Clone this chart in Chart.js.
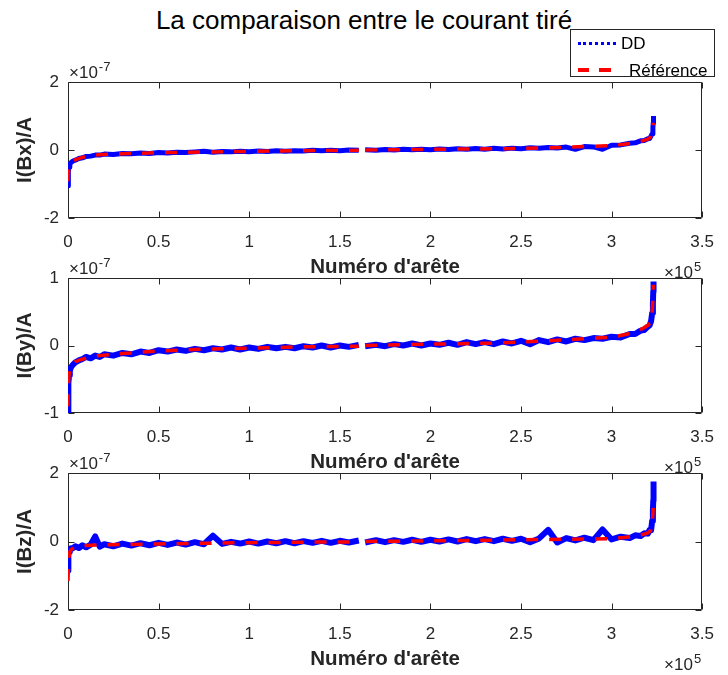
<!DOCTYPE html>
<html>
<head>
<meta charset="utf-8">
<script src="https://cdn.jsdelivr.net/npm/chart.js@4.4.1/dist/chart.umd.min.js"></script>
<style>
  html, body { margin: 0; padding: 0; background: #fff; }
  body { width: 728px; height: 675px; position: relative; overflow: hidden; font-family: 'Liberation Sans', Arial, Helvetica, sans-serif; }
  canvas.panel { position: absolute; left: 0; }
  #title { position: absolute; left: 0; top: 7px; width: 728px; text-align: center; font-size: 26px; line-height: 26px; color: #000; white-space: nowrap; }
  #legend { position: absolute; left: 570px; top: 29px; width: 143px; height: 46px; border: 1px solid #262626; background: #fff; z-index: 5; }
  .lg-text { position: absolute; font-size: 17px; line-height: 17px; color: #000; white-space: nowrap; }
  .dot { position: absolute; left: 7px; top: 12px; width: 38px; border-top: 3px dotted #0000ff; }
  .dash { position: absolute; height: 4px; background: #ff0000; top: 38px; }
</style>
</head>
<body>
<div id="title">La comparaison entre le courant tiré</div>
<div id="legend">
  <div class="dot"></div>
  <div class="lg-text" style="left:50px; top:5px;">DD</div>
  <div class="dash" style="left:7px; width:11px;"></div>
  <div class="dash" style="left:28px; width:12px;"></div>
  <div class="lg-text" style="left:58px; top:32px;">Référence</div>
</div>
<canvas class="panel" id="c1" width="728" height="235" style="top:50px"></canvas>
<canvas class="panel" id="c2" width="728" height="235" style="top:245px"></canvas>
<canvas class="panel" id="c3" width="728" height="237" style="top:440px"></canvas>
<script>
// ---------- data (current in units of 1e-7 A, x = edge number) ----------
const edgeRef = [0, 200, 500, 1000, 2000, 4000, 7000, 10000, 17000, 30000, 50000, 75000, 100000, 130000, 160500, 162500, 164000, 200000, 235000, 250000, 275000, 290000, 300000, 307000, 312000, 317000, 320000, 321500, 322300, 322700, 323000];
const refBx = [-0.92, -0.7, -0.5, -0.4, -0.34, -0.29, -0.23, -0.19, -0.14, -0.11, -0.08, -0.06, -0.04, -0.02, -0.01, null, 0.0, 0.02, 0.035, 0.05, 0.08, 0.11, 0.13, 0.17, 0.2, 0.27, 0.32, 0.38, 0.5, 0.65, 0.8];
const refBy = [-0.9, -0.6, -0.45, -0.36, -0.29, -0.24, -0.21, -0.19, -0.15, -0.12, -0.08, -0.055, -0.04, -0.02, -0.01, null, 0.0, 0.02, 0.035, 0.05, 0.085, 0.11, 0.12, 0.16, 0.19, 0.25, 0.3, 0.34, 0.45, 0.65, 0.9];
const refBz = [-1.15, -0.8, -0.45, -0.3, -0.22, -0.17, -0.14, -0.12, -0.1, -0.09, -0.07, -0.05, -0.035, -0.02, -0.01, null, 0.0, 0.02, 0.04, 0.05, 0.065, 0.075, 0.08, 0.12, 0.15, 0.2, 0.25, 0.32, 0.5, 0.75, 0.98];

const edgeDD = [0, 100, 300, 600, 1000, 1500, 2500, 4000, 6000, 8000,
  10000, 12500, 15000, 17500, 20000, 25000, 30000, 35000, 40000, 45000,
  50000, 55000, 60000, 65000, 70000, 75000, 80000, 85000, 90000, 95000,
  100000, 105000, 110000, 115000, 120000, 125000, 130000, 135000, 140000, 145000,
  150000, 155000, 160500, 162500, 164000, 170000, 175000, 180000, 185000, 190000,
  195000, 200000, 205000, 210000, 215000, 220000, 225000, 230000, 235000, 240000,
  245000, 250000, 255000, 260000, 265000, 270000, 275000, 280000, 285000, 290000,
  295000, 300000, 305000, 310000, 313000, 316000, 318000, 320000, 321000, 321800,
  322400, 322800, 323000, 323100, 323200];
const ddBx = [-1.05, -0.82, -0.62, -0.5, -0.41, -0.38, -0.33, -0.3, -0.25, -0.23,
  -0.19, -0.18, -0.15, -0.15, -0.12, -0.13, -0.1, -0.11, -0.09, -0.1,
  -0.075, -0.085, -0.065, -0.075, -0.055, -0.04, -0.065, -0.045, -0.055, -0.035,
  -0.05, -0.03, -0.045, -0.025, -0.035, -0.02, -0.03, -0.01, -0.025, -0.005,
  -0.02, 0.0, -0.01, null, 0.005, -0.005, 0.015, 0.0, 0.02, 0.005,
  0.025, 0.01, 0.03, 0.015, 0.035, 0.02, 0.045, 0.025, 0.05, 0.03,
  0.055, 0.04, 0.065, 0.05, 0.075, 0.06, 0.085, 0.02, 0.1, 0.09,
  0.02, 0.14, 0.15, 0.2, 0.21, 0.27, 0.28, 0.33, 0.34, 0.41,
  0.48, 0.65, 0.8, 0.9, 1.0];
const ddBy = [-1.0, -0.72, -0.56, -0.44, -0.38, -0.33, -0.29, -0.25, -0.22, -0.2,
  -0.17, -0.19, -0.15, -0.17, -0.13, -0.15, -0.11, -0.13, -0.09, -0.11,
  -0.07, -0.09, -0.06, -0.08, -0.05, -0.07, -0.04, -0.06, -0.03, -0.06,
  -0.03, -0.05, -0.02, -0.04, -0.02, -0.04, -0.01, -0.03, 0.0, -0.03,
  0.0, -0.02, 0.01, null, -0.01, 0.01, -0.01, 0.02, 0.0, 0.03,
  0.0, 0.03, 0.01, 0.04, 0.01, 0.05, 0.02, 0.05, 0.02, 0.06,
  0.03, 0.07, 0.02, 0.08, 0.05, 0.09, 0.06, 0.1, 0.08, 0.11,
  0.1, 0.13, 0.12, 0.17, 0.17, 0.22, 0.23, 0.28, 0.3, 0.36,
  0.48, 0.62, 0.8, 0.88, 0.95];
const ddBz = [-0.85, -0.55, -0.4, -0.3, -0.25, -0.2, -0.2, -0.14, -0.19, -0.11,
  -0.17, -0.09, 0.15, -0.15, -0.08, -0.14, -0.06, -0.12, -0.05, -0.11,
  -0.04, -0.1, -0.03, -0.09, -0.02, -0.08, 0.17, -0.07, -0.01, -0.06,
  0.0, -0.06, 0.0, -0.05, 0.01, -0.05, 0.01, -0.04, 0.02, -0.04,
  0.02, -0.03, 0.03, null, -0.03, 0.04, -0.02, 0.04, -0.01, 0.05,
  -0.01, 0.05, 0.0, 0.06, 0.0, 0.07, 0.01, 0.07, 0.01, 0.08,
  0.02, 0.08, -0.02, 0.09, 0.34, -0.03, 0.1, 0.03, 0.11, 0.04,
  0.35, 0.06, 0.14, 0.1, 0.18, 0.16, 0.24, 0.23, 0.34, 0.33,
  0.6, 0.9, 1.2, 1.5, 1.75];

const xRange = [0, 350000];
const xStep = 50000;
const yLabels = ['I(Bx)/A', 'I(By)/A', 'I(Bz)/A'];
const yRanges = [[-2, 2, 2], [-1, 1, 1], [-2, 2, 2]];
const xTitle = "Numéro d'arête";
const seriesNames = ['DD', 'Référence'];

// ---------- drawing ----------
const AXIS = '#262626';
const FONT = "'Liberation Sans', Arial, Helvetica, sans-serif";

const matlabBox = {
  id: 'matlabBox',
  beforeDatasetsDraw(chart) {
    const {ctx, chartArea: a, scales: {x, y}} = chart;
    const L = Math.round(a.left) + 0.5, R = Math.round(a.right) - 0.5;
    const T = Math.round(a.top) + 0.5, B = Math.round(a.bottom) - 0.5;
    ctx.save();
    ctx.strokeStyle = AXIS;
    ctx.lineWidth = 1;
    ctx.beginPath();
    ctx.rect(L, T, R - L, B - T);
    x.ticks.forEach(t => {
      const p = Math.round(x.getPixelForValue(t.value)) + 0.5;
      ctx.moveTo(p, B); ctx.lineTo(p, B - 6);
      ctx.moveTo(p, T); ctx.lineTo(p, T + 6);
    });
    y.ticks.forEach(t => {
      const p = Math.round(y.getPixelForValue(t.value)) + 0.5;
      ctx.moveTo(L, p); ctx.lineTo(L + 6, p);
      ctx.moveTo(R, p); ctx.lineTo(R - 6, p);
    });
    ctx.stroke();
    ctx.restore();
  },
  afterDraw(chart) {
    const {ctx, chartArea: a} = chart;
    ctx.save();
    ctx.fillStyle = AXIS;
    ctx.textBaseline = 'alphabetic';
    ctx.textAlign = 'left';
    ctx.font = '17px ' + FONT;
    const base = '\u00d710';
    ctx.fillText(base, a.left + 1, a.top - 4);
    const w = ctx.measureText(base).width;
    ctx.font = '13px ' + FONT;
    ctx.fillText('-7', a.left + 1 + w + 1, a.top - 11);
    const we = ctx.measureText('5').width;
    ctx.fillText('5', a.right - we - 1, a.bottom + 53);
    ctx.font = '17px ' + FONT;
    ctx.textAlign = 'right';
    ctx.fillText(base, a.right - we - 2, a.bottom + 60);
    ctx.restore();
  }
};

function pts(xs, ys) { return xs.map((x, i) => ({x: x, y: ys[i]})); }

function makePanel(id, idx, ddVals, refVals, padTop, ddWidth) {
  const [yMin, yMax, yStep] = yRanges[idx];
  return new Chart(document.getElementById(id), {
    type: 'line',
    data: {
      datasets: [
        { label: seriesNames[1], data: pts(edgeRef, refVals), borderColor: '#ff0000', borderWidth: 3.5,
          borderDash: [12, 11], pointRadius: 0, fill: false, tension: 0, spanGaps: false, order: 0 },
        { label: seriesNames[0], data: pts(edgeDD, ddVals), borderColor: '#0000ff', borderWidth: ddWidth,
          borderJoinStyle: 'round', pointRadius: 0, fill: false, tension: 0, spanGaps: false, order: 1 }
      ]
    },
    options: {
      responsive: false,
      animation: false,
      devicePixelRatio: 1,
      layout: { padding: { top: padTop, right: 15, left: 0, bottom: 0 } },
      plugins: { legend: { display: false }, tooltip: { enabled: false }, title: { display: false } },
      scales: {
        x: {
          type: 'linear', min: xRange[0], max: xRange[1],
          grid: { display: false, drawTicks: false },
          border: { display: false },
          ticks: { stepSize: xStep, padding: 14, color: AXIS, maxRotation: 0,
                   font: { family: FONT, size: 17 }, callback: v => String(v / 1e5) },
          title: { display: true, text: xTitle, color: AXIS, padding: { top: 0, bottom: 5 },
                   font: { family: FONT, size: 20.5, weight: 'bold' } },
          afterFit: s => { s.height = 67; }
        },
        y: {
          type: 'linear', min: yMin, max: yMax,
          grid: { display: false, drawTicks: false },
          border: { display: false },
          ticks: { stepSize: yStep, padding: 9, color: AXIS, font: { family: FONT, size: 17 },
                   callback: v => String(v) },
          title: { display: true, text: yLabels[idx], color: AXIS, padding: { top: 13, bottom: 0 },
                   font: { family: FONT, size: 20.5, weight: 'bold' } },
          afterFit: s => { s.width = 68; }
        }
      }
    },
    plugins: [matlabBox]
  });
}

makePanel('c1', 0, ddBx, refBx, 32, 5);
makePanel('c2', 1, ddBy, refBy, 33, 6);
makePanel('c3', 2, ddBz, refBz, 33, 6);
</script>
</body>
</html>
